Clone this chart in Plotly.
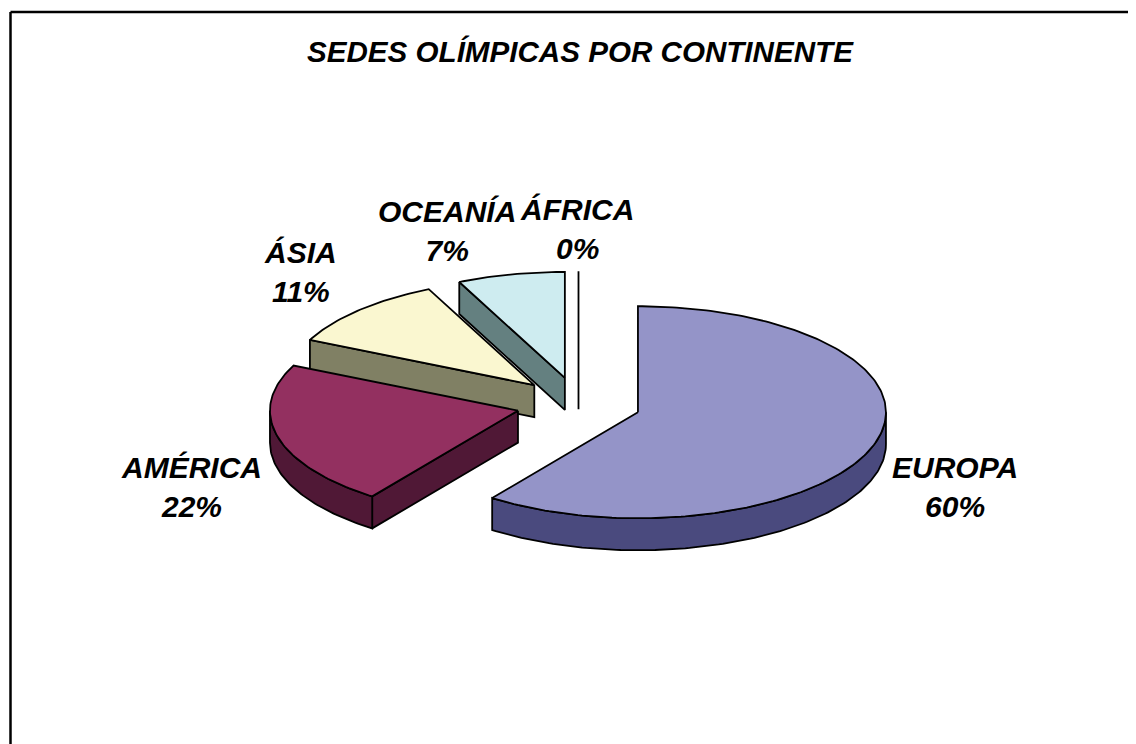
import math
import plotly.graph_objects as go

# ---------------- data ----------------
categories = ["EUROPA", "AMÉRICA", "ÁSIA", "OCEANÍA", "ÁFRICA"]
percentages = [60, 22, 11, 7, 0]
title_text = "SEDES OLÍMPICAS POR CONTINENTE"

# ---------------- styles / layout constants ----------------
top_colors = ["#9494C8", "#933060", "#FAF7D0", "#CEECF0", "#FFFFFF"]
side_colors = ["#4A4A7E", "#501836", "#808064", "#648080", "#000000"]
label_xy = [(955, 487), (191, 487), (300, 272), (447, 231), (577, 229)]

W, H = 1136, 744
OFF = 8                     # page body margin compensation
CX, CY = 578.5, 404.0      # common pie centre (screen units)
RX, RY = 248.0, 106.0      # ellipse radii
DEPTH = 32.0               # thickness of the 3D pie
EXPLODE = 0.252            # explosion, fraction of radius
FONT = "Liberation Sans, Arial, sans-serif"


def rim(theta, apex, z=0.0):
    t = math.radians(theta)
    return apex[0] + RX * math.sin(t), apex[1] - RY * math.cos(t) + z


def arc(a, b, apex, z=0.0, step=1.0):
    n = max(2, int(abs(b - a) / step) + 1)
    return [rim(a + (b - a) * i / (n - 1), apex, z) for i in range(n)]


def poly(fig, pts, fill, lw=1.8):
    xs = [p[0] for p in pts] + [pts[0][0]]
    ys = [p[1] for p in pts] + [pts[0][1]]
    fig.add_trace(go.Scatter(x=xs, y=ys, mode="lines", fill="toself",
                             fillcolor=fill, line=dict(color="black", width=lw),
                             hoverinfo="skip", showlegend=False))


total = sum(percentages)
slices = []
acc = 0.0
for i, v in enumerate(percentages):
    a1 = acc / total * 360.0
    acc += v
    a2 = acc / total * 360.0
    m = math.radians((a1 + a2) / 2)
    apex = (CX + EXPLODE * RX * math.sin(m), CY - EXPLODE * RY * math.cos(m))
    slices.append((i, a1, a2, apex))

# back-to-front drawing order
order = [3, 2, 4, 1, 0]

fig = go.Figure()
for idx in order:
    i, a1, a2, apex = slices[idx]
    apex_low = (apex[0], apex[1] + DEPTH)
    # radial wall at start angle
    if a1 >= 180 and math.sin(math.radians(a1)) < 1e-9:
        r0 = rim(a1, apex)
        r1 = rim(a1, apex, DEPTH)
        poly(fig, [apex, r0, r1, apex_low], side_colors[i])
    # radial wall at end angle
    if math.sin(math.radians(a2)) > 1e-9:
        r0 = rim(a2, apex)
        r1 = rim(a2, apex, DEPTH)
        poly(fig, [apex, r0, r1, apex_low], side_colors[i])
    # outer wall (front half of ellipse)
    lo, hi = max(a1, 90.0), min(a2, 270.0)
    if hi > lo:
        pts = arc(lo, hi, apex) + arc(hi, lo, apex, DEPTH)
        poly(fig, pts, side_colors[i])
    # top face
    if a2 > a1:
        pts = [apex] + arc(a1, a2, apex)
        poly(fig, pts, top_colors[i])

annotations = [dict(x=580, y=51, xref="x", yref="y", showarrow=False,
                    text="<b><i>%s</i></b>" % title_text,
                    font=dict(family=FONT, size=29.6, color="black"),
                    xanchor="center", yanchor="middle")]
for (cat, v), (lx, ly) in zip(zip(categories, percentages), label_xy):
    annotations.append(dict(x=lx, y=ly, xref="x", yref="y", showarrow=False,
                            text="<b><i>%s<br>%d%%</i></b>" % (cat, v),
                            font=dict(family=FONT, size=30, color="black"),
                            xanchor="center", yanchor="middle", align="center"))

fig.update_layout(
    width=W, height=H,
    margin=dict(l=0, r=0, t=0, b=0),
    paper_bgcolor="white", plot_bgcolor="white",
    xaxis=dict(range=[OFF, W + OFF], visible=False, fixedrange=True),
    yaxis=dict(range=[H + OFF, OFF], visible=False, fixedrange=True),
    annotations=annotations,
    shapes=[dict(type="line", xref="x", yref="y", x0=10.5, y0=12, x1=W + 20, y1=12,
                 line=dict(color="black", width=2.5)),
            dict(type="line", xref="x", yref="y", x0=10.5, y0=12, x1=10.5, y1=H + 20,
                 line=dict(color="black", width=2.5))],
)

fig.write_html("out.html")
